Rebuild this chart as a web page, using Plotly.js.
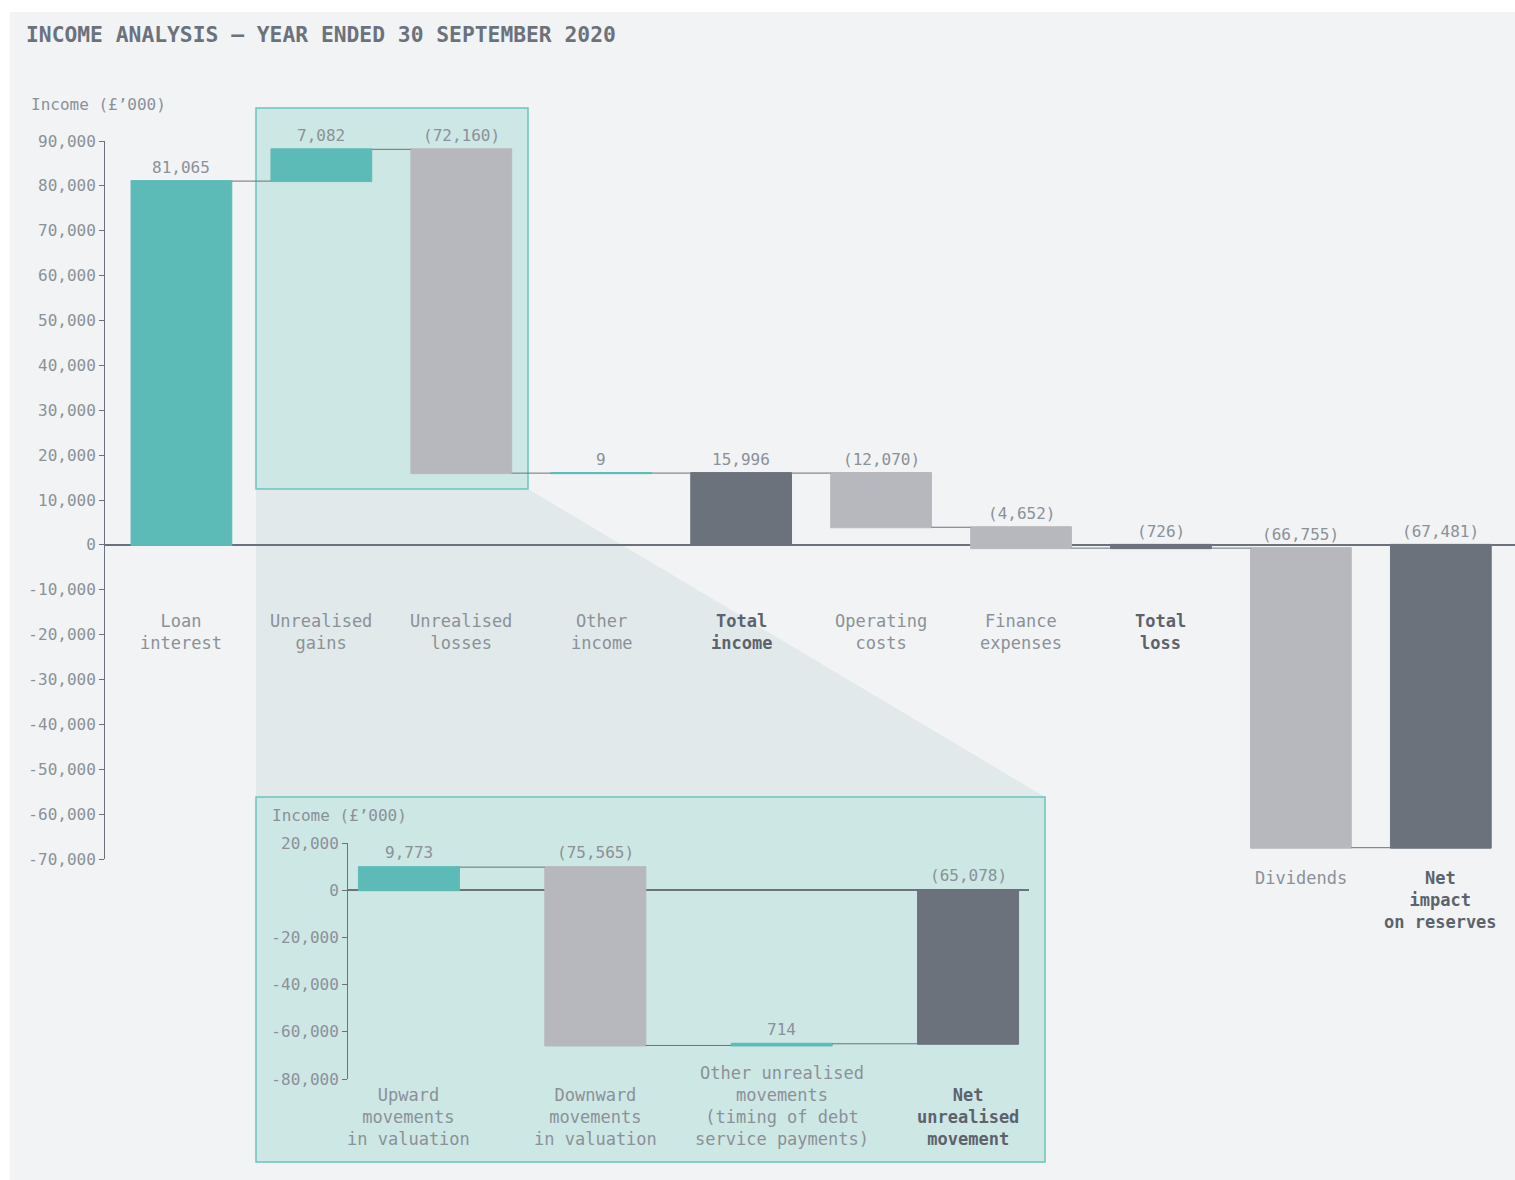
<!DOCTYPE html>
<html><head><meta charset="utf-8">
<script src="https://cdn.plot.ly/plotly-3.0.1.min.js"></script>
<style>html,body{margin:0;padding:0;background:#fff}#chart{width:1515px;height:1180px}</style>
</head><body><div id="chart"></div>
<script>
// ---------- DATA ----------
const titleText = 'INCOME ANALYSIS — YEAR ENDED 30 SEPTEMBER 2020';
const axisTitleText = 'Income (£’000)';

const mainCategories = ['Loan<br>interest', 'Unrealised<br>gains', 'Unrealised<br>losses', 'Other<br>income',
  'Total<br>income', 'Operating<br>costs', 'Finance<br>expenses', 'Total<br>loss', 'Dividends', 'Net<br>impact<br>on reserves'];
const mainValues = [81065, 7082, -72160, 9, 15996, -12070, -4652, -726, -66755, -67481];
const mainMeasures = ['relative', 'relative', 'relative', 'relative', 'total', 'relative', 'relative', 'total', 'relative', 'total'];
const mainTickValues = [90000, 80000, 70000, 60000, 50000, 40000, 30000, 20000, 10000, 0, -10000, -20000, -30000, -40000, -50000, -60000, -70000];
const mainTickLabels = ['90,000', '80,000', '70,000', '60,000', '50,000', '40,000', '30,000', '20,000', '10,000', '0', '-10,000', '-20,000', '-30,000', '-40,000', '-50,000', '-60,000', '-70,000'];

const insetCategories = ['Upward<br>movements<br>in valuation', 'Downward<br>movements<br>in valuation',
  'Other unrealised<br>movements<br>(timing of debt<br>service payments)', 'Net<br>unrealised<br>movement'];
const insetValues = [9773, -75565, 714, -65078];
const insetMeasures = ['relative', 'relative', 'relative', 'total'];
const insetTickValues = [20000, 0, -20000, -40000, -60000, -80000];
const insetTickLabels = ['20,000', '0', '-20,000', '-40,000', '-60,000', '-80,000'];

// ---------- STYLE ----------
const FONT = 'DejaVu Sans Mono, Liberation Mono, monospace';
const TEAL = '#5dbbb7', GREY = '#b6b8bd', DARK = '#6b727c';
const LABEL = '#8b9198', BOLDLABEL = '#5c636c', AXIS = '#6b727c';
const W = 1515, H = 1180;
const px = x => x / W;
const py = y => 1 - y / H;

function fmt(v) {
  const s = Math.abs(v).toLocaleString('en-GB');
  return v < 0 ? '(' + s + ')' : s;
}

// running totals -> bar extents
function extents(values, measures) {
  let run = 0; const out = [];
  values.forEach((v, i) => {
    let a, b;
    if (measures[i] === 'total') { a = 0; b = run; }
    else { a = run; run += v; b = run; }
    out.push({ hi: Math.max(a, b), lo: Math.min(a, b), shown: measures[i] === 'total' ? b : v });
  });
  return out;
}

function wf(x, y, measure, xa, ya, width) {
  return {
    type: 'waterfall', x: x, y: y, measure: measure, xaxis: xa, yaxis: ya, width: width,
    increasing: { marker: { color: TEAL, line: { color: TEAL, width: 1 } } },
    decreasing: { marker: { color: GREY, line: { color: GREY, width: 1 } } },
    totals: { marker: { color: DARK, line: { color: DARK, width: 1 } } },
    connector: { mode: 'between', line: { color: AXIS, width: 1 } },
    textinfo: 'none', hoverinfo: 'skip', cliponaxis: false, showlegend: false
  };
}

const data = [
  wf(mainCategories, mainValues, mainMeasures, 'x', 'y', 0.72),
  wf(insetCategories, insetValues, insetMeasures, 'x2', 'y2', 0.542)
];

const annotations = [];
// axis titles
annotations.push({ text: axisTitleText, xref: 'paper', yref: 'paper', x: px(29), y: py(105), xanchor: 'left', yanchor: 'middle', showarrow: false, font: { size: 16, color: LABEL } });
annotations.push({ text: axisTitleText, xref: 'paper', yref: 'paper', x: px(270), y: py(815), xanchor: 'left', yanchor: 'middle', showarrow: false, font: { size: 16, color: LABEL } });

const mainExt = extents(mainValues, mainMeasures);
mainCategories.forEach((c, i) => {
  const e = mainExt[i];
  annotations.push({ text: fmt(e.shown), x: c, y: e.hi, xref: 'x', yref: 'y', yanchor: 'bottom', yshift: 2, showarrow: false, font: { size: 16, color: LABEL } });
  const bold = mainMeasures[i] === 'total';
  const deep = e.lo < -20000;
  annotations.push({
    text: mainCategories[i], x: c, y: deep ? e.lo : -14250, xref: 'x', yref: 'y', yanchor: 'top', yshift: deep ? -18 : 0,
    showarrow: false, align: 'center',
    font: { size: 17, color: bold ? BOLDLABEL : LABEL, weight: bold ? 700 : 400 }
  });
});

const insetExt = extents(insetValues, insetMeasures);
insetCategories.forEach((c, i) => {
  const e = insetExt[i];
  annotations.push({ text: fmt(e.shown), x: c, y: e.hi, xref: 'x2', yref: 'y2', yanchor: 'bottom', yshift: 3, showarrow: false, font: { size: 16, color: LABEL } });
  const bold = insetMeasures[i] === 'total';
  annotations.push({
    text: c, x: c, xref: 'x2', yref: 'paper', y: py(1151), yanchor: 'bottom', showarrow: false, align: 'center',
    font: { size: 17, color: bold ? BOLDLABEL : LABEL, weight: bold ? 700 : 400 }
  });
});

const shapes = [
  { type: 'rect', xref: 'paper', yref: 'paper', x0: px(10), x1: 1, y0: 0, y1: py(12), fillcolor: '#f1f3f5', line: { width: 0 }, layer: 'below' },
  { type: 'path', xref: 'paper', yref: 'paper',
    path: `M ${px(256)},${py(489)} L ${px(528)},${py(489)} L ${px(1045)},${py(797)} L ${px(256)},${py(797)} Z`,
    fillcolor: '#e1e9ea', line: { width: 0 }, layer: 'below' },
  { type: 'rect', xref: 'paper', yref: 'paper', x0: px(256), x1: px(528), y0: py(489), y1: py(108), fillcolor: '#cde7e4', line: { color: '#6cc5bd', width: 1.5 }, layer: 'below' },
  { type: 'rect', xref: 'paper', yref: 'paper', x0: px(256), x1: px(1045), y0: py(1162), y1: py(797), fillcolor: '#cde7e4', line: { color: '#6cc5bd', width: 1.5 }, layer: 'below' }
];

const hiddenX = { showticklabels: false, ticks: '', showline: false, showgrid: false, zeroline: false, type: 'category', fixedrange: true };
const yStyle = {
  ticks: 'outside', ticklen: 5, tickwidth: 1, tickcolor: AXIS, showline: true, linecolor: AXIS, linewidth: 1,
  zeroline: true, zerolinecolor: AXIS, zerolinewidth: 1.5, showgrid: false, tickfont: { size: 16, color: LABEL }, fixedrange: true
};

const layout = {
  width: W, height: H, margin: { l: 0, r: 0, t: 0, b: 0 },
  paper_bgcolor: '#ffffff', plot_bgcolor: 'rgba(0,0,0,0)',
  font: { family: FONT, size: 16, color: LABEL },
  showlegend: false,
  title: { text: titleText, xref: 'paper', yref: 'paper', x: px(26), y: py(35), xanchor: 'left', yanchor: 'middle',
    font: { size: 21.3, color: DARK, weight: 700, family: FONT } },
  xaxis: Object.assign({}, hiddenX, { domain: [px(105), 1], range: [-0.546, 9.53], anchor: 'y' }),
  yaxis: Object.assign({}, yStyle, { domain: [py(859), py(141)], range: [-70000, 90000], tickvals: mainTickValues, ticktext: mainTickLabels, anchor: 'x' }),
  xaxis2: Object.assign({}, hiddenX, { domain: [px(348), px(1029)], range: [-0.327, 3.327], anchor: 'y2' }),
  yaxis2: Object.assign({}, yStyle, { domain: [py(1079), py(843)], range: [-80000, 20000], tickvals: insetTickValues, ticktext: insetTickLabels, anchor: 'x2' }),
  shapes: shapes,
  annotations: annotations
};

Plotly.newPlot('chart', data, layout, { displayModeBar: false, staticPlot: true });
</script>
</body></html>
